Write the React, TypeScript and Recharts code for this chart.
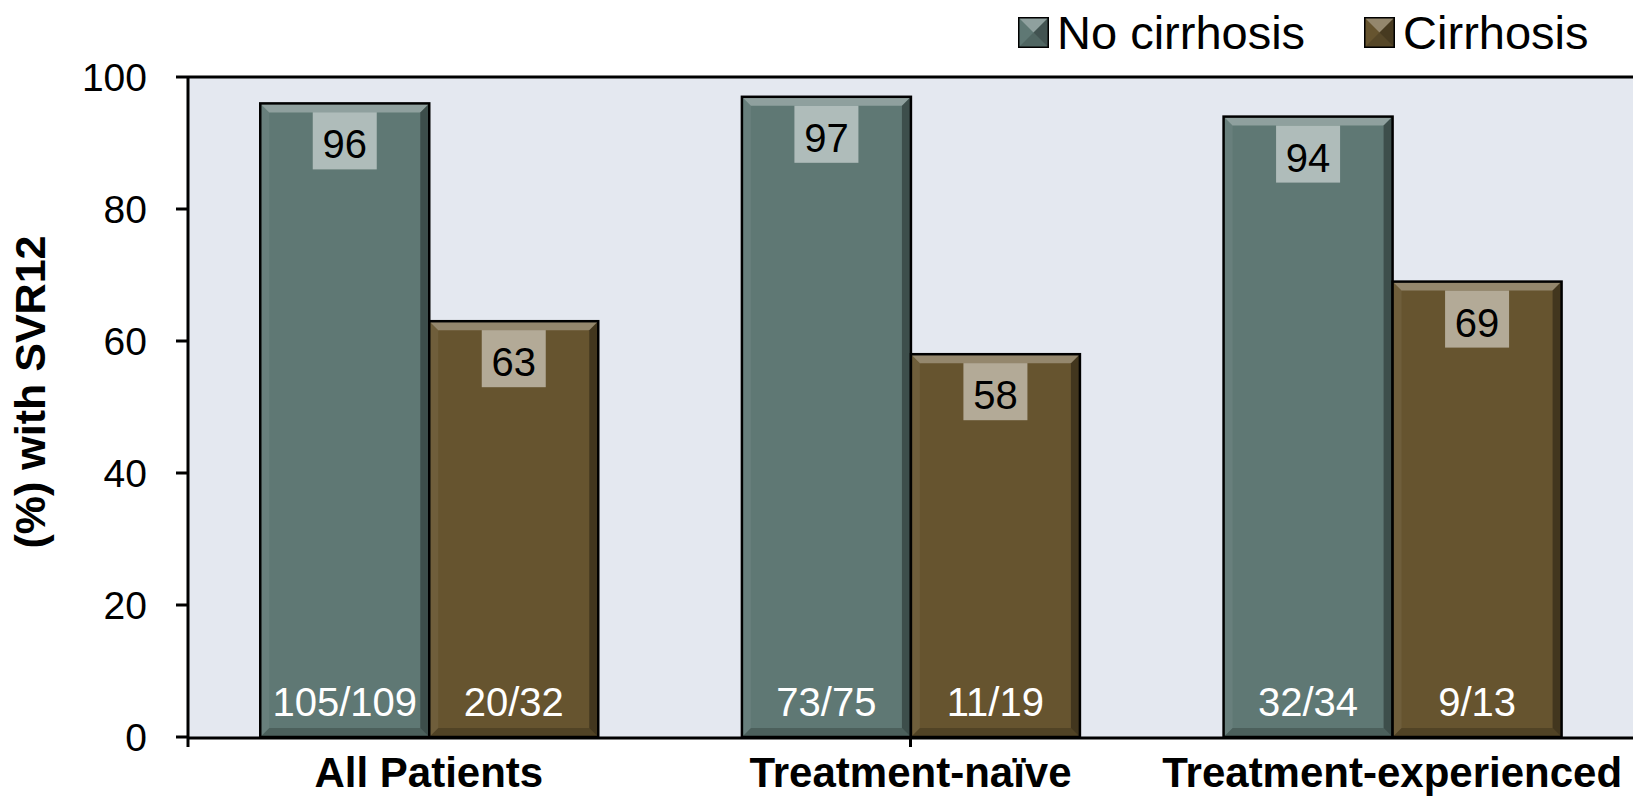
import { Bar, BarChart, CartesianGrid, LabelList, Legend, ReferenceLine, XAxis, YAxis } from "recharts";

const categories = ["All Patients", "Treatment-naïve", "Treatment-experienced"];
const seriesNames = ["No cirrhosis", "Cirrhosis"];
const noCirrhosis = [96, 97, 94];
const cirrhosis = [63, 58, 69];
const noCirrhosisN = ["105/109", "73/75", "32/34"];
const cirrhosisN = ["20/32", "11/19", "9/13"];
const yTicks = [0, 20, 40, 60, 80, 100];
const edgeTicks = [0, 1, 2, 3];

const FONT = '"Liberation Sans", Arial, Helvetica, sans-serif';
const TEAL = "#5F7874";
const BROWN = "#66542F";

const data = categories.map((name, i) => ({
  name,
  noCirrhosis: noCirrhosis[i],
  cirrhosis: cirrhosis[i],
  noCirrhosisN: noCirrhosisN[i],
  cirrhosisN: cirrhosisN[i],
}));

document.body.style.margin = "0";

// bar with a bevelled edge, like the office chart style
const BevelBar = (props: any) => {
  const { x, y, width: w, height: h, fill } = props;
  const b = 9;
  return (
    <g>
      <rect x={x} y={y} width={w} height={h} fill={fill} />
      <polygon points={`${x},${y} ${x + w},${y} ${x + w - b},${y + b} ${x + b},${y + b}`} fill="#fff" fillOpacity={0.3} />
      <polygon points={`${x + w},${y} ${x + w},${y + h} ${x + w - b},${y + h - b} ${x + w - b},${y + b}`} fill="#000" fillOpacity={0.35} />
      <polygon points={`${x},${y + h} ${x + w},${y + h} ${x + w - b},${y + h - b} ${x + b},${y + h - b}`} fill="#000" fillOpacity={0.2} />
      <polygon points={`${x},${y} ${x + b},${y + b} ${x + b},${y + h - b} ${x},${y + h}`} fill="#fff" fillOpacity={0.06} />
      <rect x={x} y={y} width={w} height={h} fill="none" stroke="#000" strokeWidth={2.5} />
    </g>
  );
};

const ValueBox = (props: any) => {
  const { x, y, width, value } = props;
  const cx = x + width / 2;
  return (
    <g>
      <rect x={cx - 32} y={y + 9} width={64} height={57} fill="#fff" fillOpacity={0.5} />
      <text x={cx} y={y + 55} textAnchor="middle" fontSize={40} fontFamily={FONT} fill="#000">
        {value}
      </text>
    </g>
  );
};

const CountLabel = (props: any) => {
  const { x, y, width, height, value } = props;
  return (
    <text x={x + width / 2} y={y + height - 21} textAnchor="middle" fontSize={40} fontFamily={FONT} fill="#fff">
      {value}
    </text>
  );
};

const CategoryTick = ({ x, y, payload }: any) => (
  <text x={x} y={y} dy={49} textAnchor="middle" fontSize={42} fontWeight="bold" fontFamily={FONT} fill="#000">
    {payload.value}
  </text>
);

const LegendIcon = ({ color }: { color: string }) => (
  <svg width={31} height={31} style={{ display: "block" }}>
    <rect x={0} y={0} width={31} height={31} fill={color} />
    <polygon points="0,0 31,0 15.5,15.5" fill="#fff" fillOpacity={0.3} />
    <polygon points="31,0 31,31 15.5,15.5" fill="#000" fillOpacity={0.3} />
    <polygon points="0,31 31,31 15.5,15.5" fill="#000" fillOpacity={0.15} />
    <rect x={0.75} y={0.75} width={29.5} height={29.5} fill="none" stroke="#000" strokeWidth={1.5} />
  </svg>
);

const LegendContent = ({ payload }: any) => {
  const items = [...(payload || [])].sort((a: any, b: any) => seriesNames.indexOf(a.value) - seriesNames.indexOf(b.value));
  return (
    <div style={{ display: "flex", alignItems: "center", fontFamily: FONT, fontSize: 47, height: 64, color: "#000" }}>
      {items.map((p: any, i: number) => (
        <div key={p.value} style={{ display: "flex", alignItems: "center", marginRight: i === 0 ? 59 : 0 }}>
          <LegendIcon color={p.color} />
          <span style={{ marginLeft: 8, lineHeight: 1 }}>{p.value}</span>
        </div>
      ))}
    </div>
  );
};

export default function App() {
  return (
    <div style={{ width: 1640, height: 797, background: "#fff" }}>
      <BarChart
        width={1640}
        height={797}
        data={data}
        margin={{ top: 77, right: 7, bottom: 0, left: 0 }}
        barCategoryGap="15%"
        barGap={0}
      >
        <CartesianGrid horizontal={false} vertical={false} fill="#E4E8F0" />
        {/* numeric helper axis: tick marks on the group boundaries */}
        <XAxis
          xAxisId={0}
          type="number"
          domain={[0, 3]}
          ticks={edgeTicks}
          height={1}
          axisLine={false}
          tickLine={{ stroke: "#000", strokeWidth: 3 }}
          tickSize={10}
          tick={() => <g />}
        />
        <XAxis
          xAxisId="cat"
          dataKey="name"
          height={59}
          axisLine={{ stroke: "#000", strokeWidth: 3 }}
          tickLine={false}
          tickSize={0}
          tickMargin={0}
          tick={<CategoryTick />}
          interval={0}
        />
        <YAxis
          width={188}
          domain={[0, 100]}
          ticks={yTicks}
          interval={0}
          axisLine={{ stroke: "#000", strokeWidth: 3 }}
          tickLine={{ stroke: "#000", strokeWidth: 3 }}
          tickSize={12}
          tickMargin={29}
          tick={{ fontSize: 39, fontFamily: FONT, fill: "#000" }}
          label={{
            value: "(%) with SVR12",
            content: () => (
              <text
                transform="translate(30,392) rotate(-90)"
                textAnchor="middle"
                dominantBaseline="central"
                fontSize={43}
                fontWeight="bold"
                fontFamily={FONT}
                fill="#000"
              >
                (%) with SVR12
              </text>
            ),
          }}
        />
        <ReferenceLine y={100} stroke="#000" strokeWidth={3} />
        <ReferenceLine x={3} xAxisId={0} stroke="#000" strokeWidth={3} />
        <Legend
          layout="horizontal"
          verticalAlign="middle"
          content={<LegendContent />}
          wrapperStyle={{ top: 0, left: 1018, width: 620, height: 64 }}
        />
        <Bar xAxisId="cat" dataKey="noCirrhosis" name="No cirrhosis" fill={TEAL} shape={<BevelBar />} isAnimationActive={false}>
          <LabelList dataKey="noCirrhosis" content={<ValueBox />} />
          <LabelList dataKey="noCirrhosisN" content={<CountLabel />} />
        </Bar>
        <Bar xAxisId="cat" dataKey="cirrhosis" name="Cirrhosis" fill={BROWN} shape={<BevelBar />} isAnimationActive={false}>
          <LabelList dataKey="cirrhosis" content={<ValueBox />} />
          <LabelList dataKey="cirrhosisN" content={<CountLabel />} />
        </Bar>
      </BarChart>
    </div>
  );
}
